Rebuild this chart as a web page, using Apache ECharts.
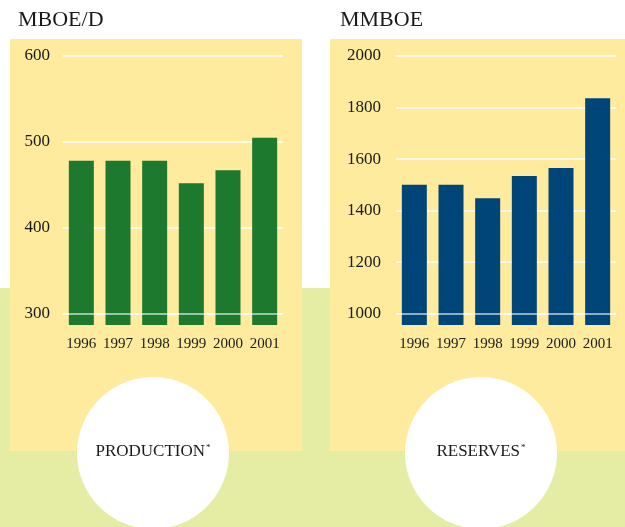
<!DOCTYPE html>
<html>
<head>
<meta charset="utf-8">
<script src="https://cdn.jsdelivr.net/npm/echarts@6/dist/echarts.min.js"></script>
<style>
  html, body { margin: 0; padding: 0; background: #fff; }
  #chart { width: 625px; height: 527px; }
</style>
</head>
<body>
<div id="chart"></div>
<script>
const years = ['1996', '1997', '1998', '1999', '2000', '2001'];
const production = [478, 478, 478, 452, 467, 505];
const reserves = [1500, 1500, 1448, 1534, 1565, 1836];
const productionTicks = [300, 400, 500, 600];
const reservesTicks = [1000, 1200, 1400, 1600, 1800, 2000];

const serif = '"Liberation Serif", "DejaVu Serif", serif';
const yellow = '#feeb9d';
const lightGreen = '#e5eda4';
const ink = '#1a1a1a';

const myChart = echarts.init(document.getElementById('chart'));

// white grid lines sit behind the bars (z 1 < bar z 2)
const gridLines = (ticks) => ({
    z: 1,
    silent: true,
    symbol: 'none',
    label: { show: false },
    lineStyle: { color: '#fff', type: 'solid', width: 1.5 },
    data: ticks.map((v) => ({ yAxis: v })),
});

// the bottom line is drawn over the bars
const baseLine = (v) => ({
    z: 5,
    silent: true,
    symbol: 'none',
    label: { show: false },
    lineStyle: { color: 'rgba(255,255,255,0.75)', type: 'solid', width: 1.5 },
    data: [{ yAxis: v }],
});

const circleLabel = (x, text) => ({
    type: 'text', x: x, y: 452,
    style: {
        text: '{t|' + text + '}{s|*}', align: 'center', verticalAlign: 'middle',
        rich: {
            t: { font: '17px ' + serif, fill: ink },
            s: { font: '9px ' + serif, fill: ink, verticalAlign: 'top', padding: [0, 0, 9, 1] },
        },
    },
});

const option = {
    animation: false,
    graphic: [
        { type: 'rect', z: -10, shape: { x: 0, y: 288, width: 625, height: 239 }, style: { fill: lightGreen } },
        { type: 'rect', z: -9, shape: { x: 10, y: 39, width: 292, height: 412 }, style: { fill: yellow } },
        { type: 'rect', z: -9, shape: { x: 330, y: 39, width: 295, height: 412 }, style: { fill: yellow } },
        { type: 'circle', z: -8, shape: { cx: 153, cy: 453, r: 76 }, style: { fill: '#fff' } },
        { type: 'circle', z: -8, shape: { cx: 481, cy: 453, r: 76 }, style: { fill: '#fff' } },
        { type: 'text', left: 18, top: 9, style: { text: 'MBOE/D', font: '22px ' + serif, fill: ink } },
        { type: 'text', left: 340, top: 9, style: { text: 'MMBOE', font: '22px ' + serif, fill: ink } },
        circleLabel(153, 'PRODUCTION'),
        circleLabel(481, 'RESERVES'),
    ],
    grid: [
        { left: 63, right: 342, top: 56, bottom: 202 },
        { left: 396, right: 9, top: 56, bottom: 202 },
    ],
    xAxis: [0, 1].map((i) => ({
        type: 'category',
        gridIndex: i,
        data: years,
        axisLine: { show: false },
        axisTick: { show: false },
        axisLabel: { interval: 0, margin: 12, color: ink, fontFamily: serif, fontSize: 15 },
    })),
    yAxis: [
        {
            type: 'value', gridIndex: 0, min: 287, max: 600,
            splitLine: { show: false },
            axisLabel: { customValues: productionTicks, formatter: (v) => String(v), margin: 13, color: ink, fontFamily: serif, fontSize: 17 },
        },
        {
            type: 'value', gridIndex: 1, min: 956, max: 2000,
            splitLine: { show: false },
            axisLabel: { customValues: reservesTicks, formatter: (v) => String(v), margin: 15, color: ink, fontFamily: serif, fontSize: 17 },
        },
    ],
    series: [
        { type: 'line', xAxisIndex: 0, yAxisIndex: 0, data: [], z: 1, markLine: gridLines(productionTicks) },
        { type: 'line', xAxisIndex: 1, yAxisIndex: 1, data: [], z: 1, markLine: gridLines(reservesTicks) },
        {
            name: 'Production', type: 'bar', xAxisIndex: 0, yAxisIndex: 0,
            data: production, barWidth: 25, color: '#1c792e', z: 2,
            markLine: baseLine(productionTicks[0]),
        },
        {
            name: 'Reserves', type: 'bar', xAxisIndex: 1, yAxisIndex: 1,
            data: reserves, barWidth: 25, color: '#004578', z: 2,
            markLine: baseLine(reservesTicks[0]),
        },
    ],
};

myChart.setOption(option);

window.addEventListener('resize', () => {
    myChart.resize();
});
</script>
</body>
</html>
